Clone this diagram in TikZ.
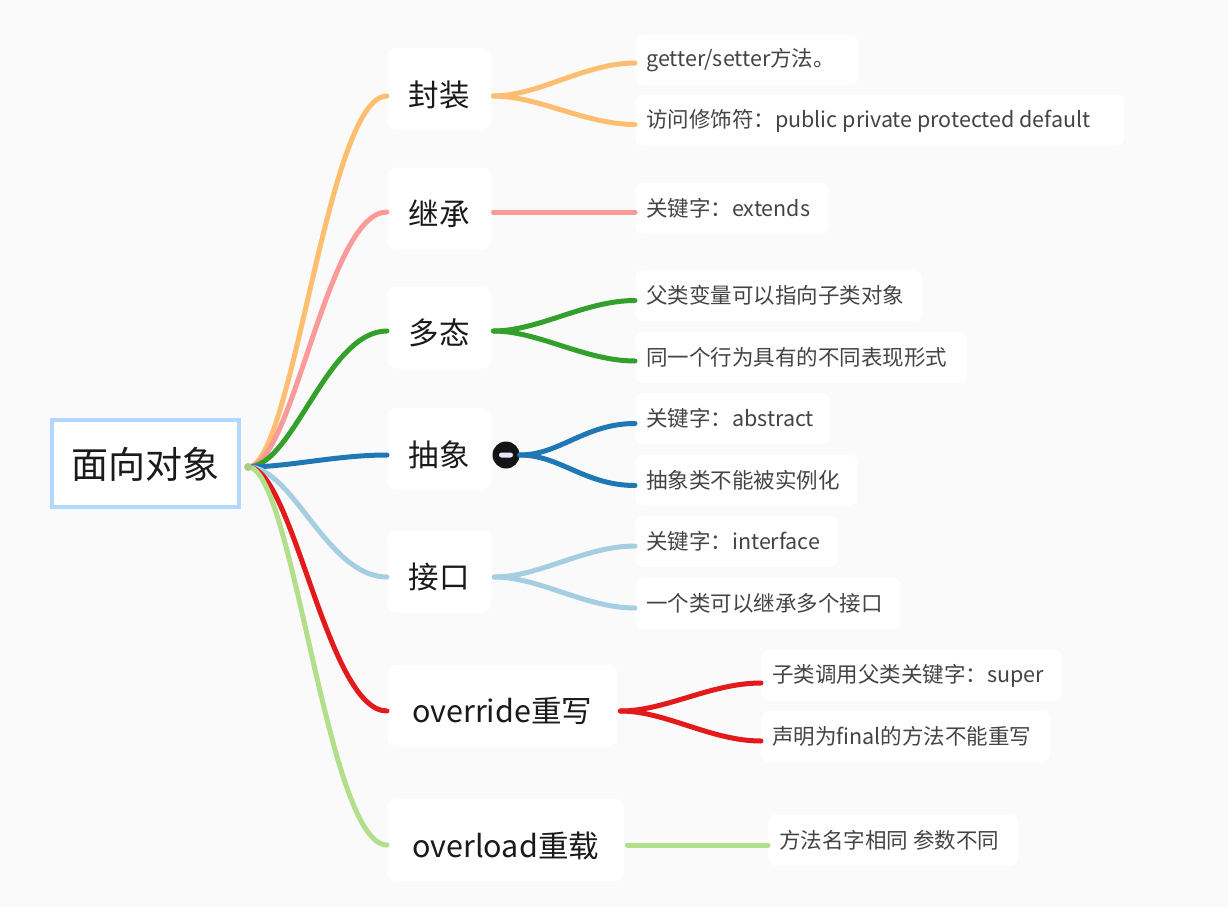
\documentclass[tikz,border=0pt]{standalone}
\usepackage{fontspec}
\setmainfont{Noto Sans CJK SC}
\definecolor{bg}{HTML}{FAFAFA}
\definecolor{rootborder}{HTML}{B3D7FD}
\definecolor{cOrange}{HTML}{FDBF6F}
\definecolor{cPink}{HTML}{FB9A99}
\definecolor{cGreen}{HTML}{33A02C}
\definecolor{cBlue}{HTML}{1F78B4}
\definecolor{cLBlue}{HTML}{A6CEE3}
\definecolor{cRed}{HTML}{E31A1C}
\definecolor{cLGreen}{HTML}{B2DF8A}
\definecolor{leaftext}{HTML}{444444}
\definecolor{branchtext}{HTML}{1A1A1A}
\tikzset{
  rootbox/.style={draw=rootborder, line width=4pt, fill=white, minimum width=187pt, minimum height=87pt, inner sep=0pt, text height=58pt, text depth=29pt, font=\fontsize{37}{44}\selectfont, text=branchtext},
  branchbox/.style={anchor=west, fill=white, rounded corners=9pt, text width=#1, align=center, text height=58pt, text depth=24pt, inner xsep=20pt, inner ysep=0pt, font=\fontsize{30.5}{36}\selectfont, text=branchtext},
  leafbox/.style={anchor=west, fill=white, rounded corners=8pt, text width=#1, align=flush left, minimum height=51pt, inner xsep=11pt, inner ysep=0pt, font=\fontsize{21.5}{26}\selectfont, text=leaftext},
  link/.style={line width=5pt, line cap=round},
}
\begin{document}
\begin{tikzpicture}[x=1pt, y=-1pt]
\path[fill=bg] (0,0) rectangle (1228,907);
% root
\node[rootbox] (root) at (145.5,463.5) {面向对象};
\coordinate (r) at (248,467);
% branches
\node[branchbox=64pt] (b1) at (387,89) {封装};
\node[branchbox=64pt] (b2) at (387,208.5) {继承};
\node[branchbox=64pt] (b3) at (387,327.5) {多态};
\node[branchbox=64pt] (b4) at (387,449) {抽象};
\node[branchbox=64pt] (b5) at (387,571.5) {接口};
\node[branchbox=190pt] (b6) at (387,705.5) {override重写};
\node[branchbox=197pt] (b7) at (387,840) {overload重载};
% leaves
\node[leafbox=201pt] (l11) at (635,60) {getter/setter方法。};
\node[leafbox=467pt] (l12) at (635,120.5) {访问修饰符：public private protected default};
\node[leafbox=172pt] (l21) at (635,208.5) {关键字：extends};
\node[leafbox=265pt] (l31) at (635,295.5) {父类变量可以指向子类对象};
\node[leafbox=310pt] (l32) at (635,357.5) {同一个行为具有的不同表现形式};
\node[leafbox=173pt] (l41) at (635,418.5) {关键字：abstract};
\node[leafbox=200pt] (l42) at (635,480.5) {抽象类不能被实例化};
\node[leafbox=181pt] (l51) at (635,541.5) {关键字：interface};
\node[leafbox=244pt] (l52) at (635,603.5) {一个类可以继承多个接口};
\node[leafbox=279pt] (l61) at (761,675.5) {子类调用父类关键字：super};
\node[leafbox=267pt] (l62) at (761,736.5) {声明为final的方法不能重写};
\node[leafbox=228pt] (l71) at (768,840) {方法名字相同 参数不同};
% collapse button
\node[circle, fill=black!92, minimum size=27pt, inner sep=0pt] (btn) at (506,455) {};
\fill[white!90!blue, rounded corners=2.5pt] ([xshift=-7pt,yshift=-2.5pt]btn.center) rectangle ([xshift=7pt,yshift=2.5pt]btn.center);
% root links
\draw[link, cOrange] (r) .. controls +(45,0) and +(-60,0) .. ([yshift=-7pt]b1.west);
\draw[link, cPink] (r) .. controls +(45,0) and +(-60,0) .. ([yshift=-3.5pt]b2.west);
\draw[link, cGreen] (r) .. controls +(45,0) and +(-60,0) .. ([yshift=-3.5pt]b3.west);
\draw[link, cBlue] (r) .. controls +(40,0) and +(-50,0) .. ([yshift=-6pt]b4.west);
\draw[link, cLBlue] (r) .. controls +(45,0) and +(-60,0) .. ([yshift=-5.5pt]b5.west);
\draw[link, cRed] (r) .. controls +(45,0) and +(-60,0) .. ([yshift=-5.5pt]b6.west);
\draw[link, cLGreen] (r) .. controls +(45,0) and +(-60,0) .. ([yshift=-5pt]b7.west);
\fill[cLGreen!80!gray] (r) circle (4pt);
% leaf links
\draw[link, cOrange] ([xshift=2pt,yshift=-7pt]b1.east) .. controls +(45,0) and +(-50,0) .. ([yshift=-3pt]l11.west);
\draw[link, cOrange] ([xshift=2pt,yshift=-7pt]b1.east) .. controls +(45,0) and +(-50,0) .. ([yshift=-4pt]l12.west);
\draw[link, cPink] ([xshift=2pt,yshift=-3.5pt]b2.east) -- ([yshift=-3.5pt]l21.west);
\draw[link, cGreen] ([xshift=2pt,yshift=-3.5pt]b3.east) .. controls +(45,0) and +(-50,0) .. ([yshift=-5pt]l31.west);
\draw[link, cGreen] ([xshift=2pt,yshift=-3.5pt]b3.east) .. controls +(45,0) and +(-50,0) .. ([yshift=-3.5pt]l32.west);
\draw[link, cBlue] (btn.east) .. controls +(40,0) and +(-50,0) .. ([yshift=-5pt]l41.west);
\draw[link, cBlue] (btn.east) .. controls +(40,0) and +(-50,0) .. ([yshift=-5pt]l42.west);
\draw[link, cLBlue] ([xshift=3pt,yshift=-5.5pt]b5.east) .. controls +(45,0) and +(-50,0) .. ([yshift=-4.5pt]l51.west);
\draw[link, cLBlue] ([xshift=3pt,yshift=-5.5pt]b5.east) .. controls +(45,0) and +(-50,0) .. ([yshift=-4.5pt]l52.west);
\draw[link, cRed] ([xshift=3pt,yshift=-5.5pt]b6.east) .. controls +(45,0) and +(-50,0) .. ([yshift=-7.5pt]l61.west);
\draw[link, cRed] ([xshift=3pt,yshift=-5.5pt]b6.east) .. controls +(45,0) and +(-50,0) .. ([yshift=-4.5pt]l62.west);
\draw[link, cLGreen] ([xshift=3pt,yshift=-5pt]b7.east) -- ([yshift=-5pt]l71.west);
\end{tikzpicture}
\end{document}
